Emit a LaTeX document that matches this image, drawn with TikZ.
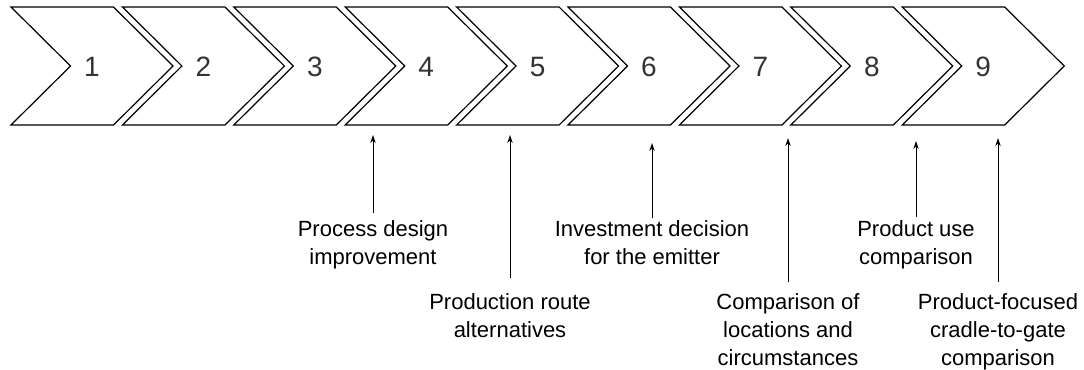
\documentclass[tikz,border=0pt]{standalone}
\usepackage{fontspec}
\setmainfont{Liberation Sans}
\usetikzlibrary{arrows.meta}
\begin{document}
\begin{tikzpicture}[x=0.75pt,y=-0.75pt,
  chevron/.style={draw=black,line width=0.9pt,line join=miter,fill=white},
  stepnum/.style={font=\fontsize{21}{25}\selectfont,text=black!80,inner sep=0pt},
  note/.style={font=\fontsize{16.5}{21}\selectfont,align=center,inner sep=0pt,anchor=north},
  pointer/.style={-{Stealth[length=6pt,width=4pt]},line width=0.7pt}]
\useasboundingbox (0,0) rectangle (1084,369);
% row of chevron steps
\foreach \i in {1,...,9}{
  \pgfmathsetmacro{\xl}{11+111.4*(\i-1)}
  \draw[chevron] (\xl,7) -- ++(102.5,0) -- ++(59.5,59) -- ++(-59.5,59)
    -- ++(-102.5,0) -- ++(59.5,-59) -- cycle;
  \node[stepnum] (n\i) at (\xl+81,67) {\i};
}
% arrow targets below the steps
\coordinate (t1) at (373,135);
\coordinate (t2) at (510,135);
\coordinate (t3) at (652,143);
\coordinate (t4) at (788,138);
\coordinate (t5) at (916,141);
\coordinate (t6) at (998,138);
% application labels
\node[note] (l1) at (373,220) {Process design\\improvement};
\node[note] (l2) at (510,293) {Production route\\alternatives};
\node[note] (l3) at (652,220) {Investment decision\\for the emitter};
\node[note] (l4) at (788,293) {Comparison of\\locations and\\circumstances};
\node[note] (l5) at (916,220) {Product use\\comparison};
\node[note] (l6) at (998,293) {Product-focused\\cradle-to-gate\\comparison};
% pointers
\draw[pointer] (l1.north) ++(0,-7) -- (t1);
\draw[pointer] (l2.north) ++(0,-15) -- (t2);
\draw[pointer] (l3.north) ++(0,-2) -- (t3);
\draw[pointer] (l4.north) ++(0,-11) -- (t4);
\draw[pointer] (l5.north) ++(0,-3) -- (t5);
\draw[pointer] (l6.north) ++(0,-11) -- (t6);
\end{tikzpicture}
\end{document}
